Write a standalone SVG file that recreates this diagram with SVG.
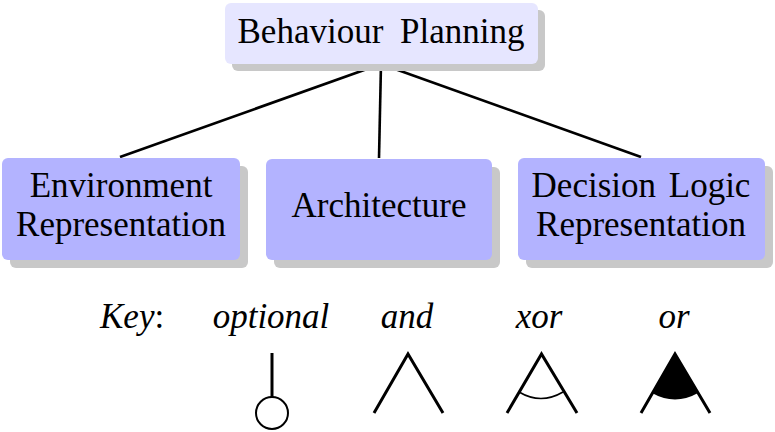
<svg xmlns="http://www.w3.org/2000/svg" width="775" height="432" viewBox="0 0 775 432">
<style>
.t{font-family:"Liberation Serif","Times New Roman",serif;font-size:35px;fill:#000;text-anchor:middle}
.i{font-style:italic}
.sh{fill:#c8c8c8}
.top{fill:#e6e6ff}
.mid{fill:#b3b3ff}
.c{stroke:#000;stroke-width:2.6;fill:none}
.k{stroke:#000;stroke-width:3;fill:none}
</style>
<rect width="775" height="432" fill="#fff"/>
<g id="connectors">
<line class="c" x1="381" y1="64" x2="120" y2="157"/>
<line class="c" x1="381" y1="64" x2="379" y2="158"/>
<line class="c" x1="381" y1="64" x2="641" y2="157"/>
</g>
<g id="behaviour-planning">
<rect class="sh" x="232" y="10" width="313" height="61" rx="6"/>
<rect class="top" x="225" y="3" width="313" height="61" rx="6"/>
<text class="t" x="381" y="43" style="word-spacing:8px">Behaviour Planning</text>
</g>
<g id="environment-representation">
<rect class="sh" x="10" y="166" width="238" height="102" rx="6"/>
<rect class="mid" x="2" y="158" width="238" height="102" rx="6"/>
<text class="t" x="121" y="197">Environment</text>
<text class="t" x="121" y="236">Representation</text>
</g>
<g id="architecture">
<rect class="sh" x="274" y="167" width="226" height="101" rx="6"/>
<rect class="mid" x="266" y="159" width="226" height="101" rx="6"/>
<text class="t" x="379" y="217">Architecture</text>
</g>
<g id="decision-logic-representation">
<rect class="sh" x="526" y="166" width="247" height="102" rx="6"/>
<rect class="mid" x="518" y="158" width="247" height="102" rx="6"/>
<text class="t" x="641" y="197" style="word-spacing:4px">Decision Logic</text>
<text class="t" x="641" y="236">Representation</text>
</g>
<g id="key">
<text class="t" x="100" y="328" style="text-anchor:start"><tspan class="i">Key</tspan>:</text>
<text class="t i" x="271" y="328">optional</text>
<text class="t i" x="407" y="328">and</text>
<text class="t i" x="539" y="328">xor</text>
<text class="t i" x="674" y="328">or</text>
<line class="k" x1="272" y1="353" x2="272" y2="397"/>
<circle cx="272" cy="413" r="16" fill="#fff" stroke="#000" stroke-width="2"/>
<polyline class="k" points="374,413 408,354 443,413"/>
<polyline class="k" points="507,413 541.5,354 577,413"/>
<path d="M519,392 Q541,405 563,392" fill="none" stroke="#000" stroke-width="1.6"/>
<path d="M675,354 L652,393 Q675,406 698,393 Z" fill="#000"/>
<polyline class="k" points="641,413 675,354 710,413"/>
</g>
</svg>
